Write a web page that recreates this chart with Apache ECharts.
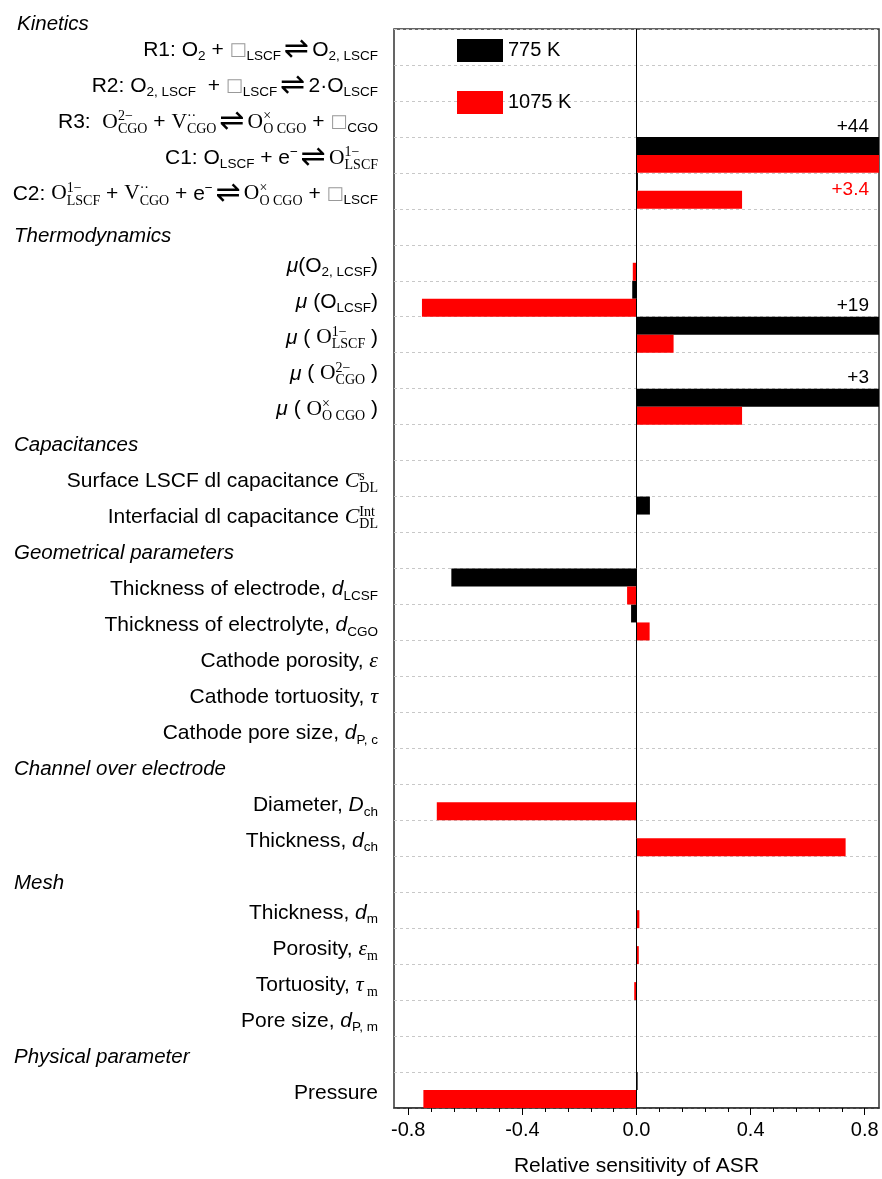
<!DOCTYPE html>
<html><head><meta charset="utf-8">
<script src="https://cdn.jsdelivr.net/npm/echarts@6/dist/echarts.min.js"></script>
<style>html,body{margin:0;padding:0;background:#fff}#c{width:882px;height:1179px}</style>
</head><body><div id="c"></div>
<script>
// ---------- data ----------
const categories = [
  '{a|R1: O}{b|2}{a| + }{box|□}{b|LSCF}{eq|⇌}{a|O}{b|2, LSCF}',
  '{a|R2: O}{b|2, LSCF}{a|  + }{box|□}{b|LSCF}{eq|⇌}{a|2·O}{b|LSCF}',
  '{a|R3:  }{t|O}{tp|2−}{tb|CGO}{a| + }{t|V}{tp|··}{tb|CGO}{eq|⇌}{t|O}{tp|×}{tb|O CGO}{a| + }{box|□}{b|CGO}',
  '{a|C1: O}{b|LSCF}{a| + e}{p|−}{eq|⇌}{t|O}{tp|1−}{tb|LSCF}',
  '{a|C2: }{t|O}{tp|1−}{tb|LSCF}{a| + }{t|V}{tp|··}{tb|CGO}{a| + e}{p|−}{eq|⇌}{t|O}{tp|×}{tb|O CGO}{a| + }{box|□}{b|LSCF}',
  '{hl|Thermodynamics}',
  '{i|μ}{a|(O}{b|2, LCSF}{a|)}',
  '{i|μ}{a| (O}{b|LCSF}{a|)}',
  '{i|μ}{a| ( }{t|O}{tp|1−}{tb|LSCF}{a| )}',
  '{i|μ}{a| ( }{t|O}{tp|2−}{tb|CGO}{a| )}',
  '{i|μ}{a| ( }{t|O}{tp|×}{tb|O CGO}{a| )}',
  '{h|Capacitances}',
  '{a|Surface LSCF dl capacitance }{ti|C}{tp|s}{tb|DL}',
  '{a|Interfacial dl capacitance }{ti|C}{tp|Int}{tb|DL}',
  '{h|Geometrical parameters}',
  '{a|Thickness of electrode, }{i|d}{b|LCSF}',
  '{a|Thickness of electrolyte, }{i|d}{b|CGO}',
  '{a|Cathode porosity, }{ti|ε}',
  '{a|Cathode tortuosity, }{ti|τ}',
  '{a|Cathode pore size, }{i|d}{b|P, c}',
  '{h|Channel over electrode}',
  '{a|Diameter, }{i|D}{b|ch}',
  '{a|Thickness, }{i|d}{b|ch}',
  '{hl|Mesh}',
  '{a|Thickness, }{i|d}{b|m}',
  '{a|Porosity, }{ti|ε}{tb|m}',
  '{a|Tortuosity, }{ti|τ}{tb| m}',
  '{a|Pore size, }{i|d}{b|P, m}',
  '{h|Physical parameter}',
  '{a|Pressure}'
];
const legendNames = ['775 K', '1075 K'];
const values775 = [0, 0, 0, 44, 0.005, null, 0, -0.015, 19, 0, 3, null, 0, 0.047, null,
  -0.649, -0.019, 0, 0, 0, null, 0, 0, null, 0, 0, 0, 0, null, 0.004];
const values1075 = [0, 0, 0, 3.4, 0.37, null, -0.013, -0.752, 0.13, 0, 0.37, null, 0, 0, null,
  -0.033, 0.046, 0, 0, 0, null, -0.70, 0.733, null, 0.01, 0.008, -0.008, 0, null, -0.747];
const majorTicks = [-0.8, -0.4, 0, 0.4, 0.8];
const minorTicks = [-0.72, -0.64, -0.56, -0.48, -0.32, -0.24, -0.16, -0.08,
  0.08, 0.16, 0.24, 0.32, 0.48, 0.56, 0.64, 0.72];
const xMin = -0.85, xMax = 0.85;
const xTitle = 'Relative sensitivity of ASR';
const sectionTitle = 'Kinetics';

// ---------- styles ----------
const SANS = 'Liberation Sans', SERIF = 'Liberation Serif';
const rich = {
  a: {fontFamily: SANS, fontSize: 21, color: '#000', align: 'left'},
  b: {fontFamily: SANS, fontSize: 13.5, height: 13, verticalAlign: 'bottom', color: '#000', align: 'left'},
  p: {fontFamily: SANS, fontSize: 13.5, height: 15, verticalAlign: 'top', color: '#000', align: 'left'},
  i: {fontFamily: SANS, fontStyle: 'italic', fontSize: 21, color: '#000', align: 'left'},
  t: {fontFamily: SERIF, fontSize: 21.5, color: '#000', align: 'left'},
  ti: {fontFamily: SERIF, fontStyle: 'italic', fontSize: 22, color: '#000', align: 'left'},
  tb: {fontFamily: SERIF, fontSize: 14, height: 12, verticalAlign: 'bottom', color: '#000', align: 'left'},
  tp: {fontFamily: SERIF, fontSize: 14, height: 15, width: 0, verticalAlign: 'top', color: '#000', align: 'left'},
  box: {fontFamily: 'DejaVu Sans', fontSize: 18, color: '#999', align: 'left'},
  eq: {fontFamily: 'DejaVu Sans', fontSize: 30, color: '#000', padding: [0, 3, 0, 3], align: 'left'},
  h: {fontFamily: SANS, fontStyle: 'italic', fontSize: 20.5, color: '#000', width: 364, align: 'left'},
  hl: {fontFamily: SANS, fontStyle: 'italic', fontSize: 20.5, color: '#000', width: 364, align: 'left',
    padding: [12, 0, 0, 0]}
};

const chart = echarts.init(document.getElementById('c'), null, {renderer: 'canvas'});
function mk(values) {
  return values.map(v => ({value: v, label: {show: v != null && v > xMax}}));
}
const option = {
  animation: false,
  backgroundColor: '#fff',
  title: {text: sectionTitle, left: 12, top: 9,
    textStyle: {fontFamily: SANS, fontStyle: 'italic', fontWeight: 'normal', fontSize: 20.5, color: '#000'}},
  legend: {data: legendNames, orient: 'vertical', left: 457, top: 39, padding: 0, itemWidth: 46, itemHeight: 23,
    itemGap: 29, icon: 'rect', textStyle: {fontFamily: SANS, fontSize: 20, color: '#000'}},
  grid: {left: 394, right: 3, top: 29, bottom: 71, show: true, borderColor: '#333', borderWidth: 1.5,
    containLabel: false, outerBoundsMode: 'none'},
  xAxis: [{
    type: 'value', min: xMin, max: xMax, position: 'bottom',
    axisLine: {show: true, onZero: false, lineStyle: {color: '#333', width: 1.5}},
    axisTick: {show: true, customValues: majorTicks, length: 7, lineStyle: {color: '#000', width: 1}},
    axisLabel: {customValues: majorTicks, formatter: v => v.toFixed(1), fontFamily: SANS, fontSize: 20,
      color: '#000', margin: 12},
    splitLine: {show: false},
    name: xTitle, nameLocation: 'middle', nameGap: 48,
    nameTextStyle: {fontFamily: SANS, fontSize: 21, color: '#000', verticalAlign: 'top'}
  }, {
    type: 'value', min: xMin, max: xMax, position: 'bottom', gridIndex: 0,
    axisLine: {show: false},
    axisTick: {show: true, customValues: minorTicks, length: 4, lineStyle: {color: '#000', width: 1}},
    axisLabel: {show: false}, splitLine: {show: false}
  }],
  yAxis: {
    type: 'category', inverse: true, data: categories,
    axisLine: {show: false}, axisTick: {show: false},
    splitLine: {show: true, lineStyle: {color: '#c8c8c8', type: [3, 3], width: 1}},
    axisLabel: {interval: 0, margin: 16, lineHeight: 26, padding: [6, 0, 0, 0], rich: rich, formatter: v => v}
  },
  series: [{
    name: legendNames[0], type: 'bar', xAxisIndex: 0, data: mk(values775),
    itemStyle: {color: '#000'}, barGap: '0%', barCategoryGap: '0%', clip: true,
    label: {position: ['100%', 0], align: 'right', verticalAlign: 'bottom', offset: [-10, -1],
      formatter: p => '+' + p.value, fontFamily: SANS, fontSize: 19, color: '#000'},
    markLine: {silent: true, symbol: 'none', data: [{xAxis: 0}],
      lineStyle: {color: '#000', width: 1, type: 'solid'}, label: {show: false}}
  }, {
    name: legendNames[1], type: 'bar', xAxisIndex: 0, data: mk(values1075),
    itemStyle: {color: '#ff0000'}, barGap: '0%', barCategoryGap: '0%', clip: true,
    label: {position: ['100%', '100%'], align: 'right', verticalAlign: 'top', offset: [-10, 7],
      formatter: p => '+' + p.value, fontFamily: SANS, fontSize: 19, color: '#ff0000'}
  }]
};
chart.setOption(option);
</script>
</body></html>
